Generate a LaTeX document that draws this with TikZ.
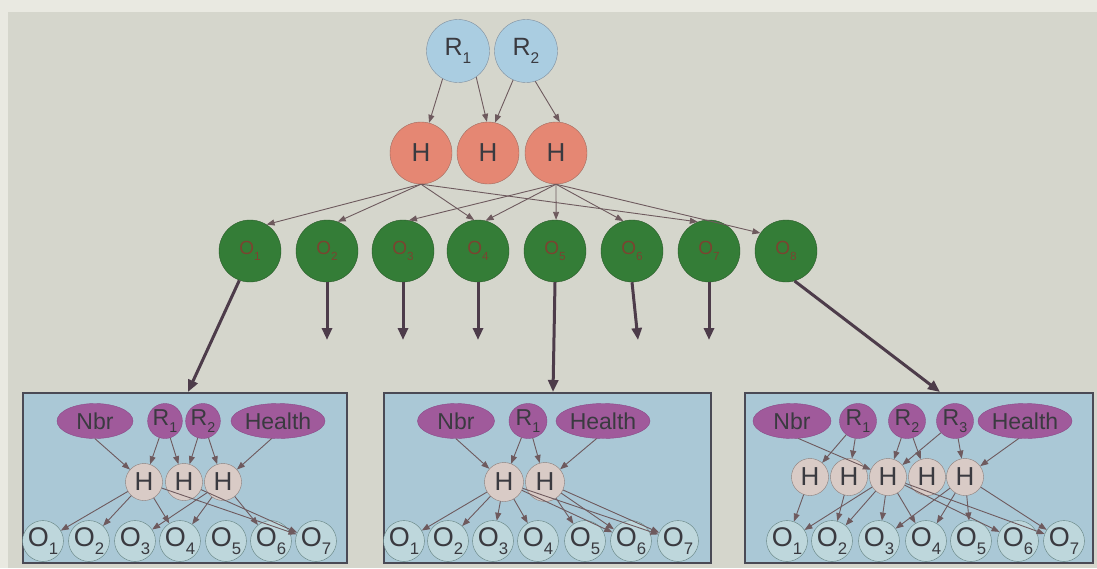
\documentclass[tikz,border=0pt]{standalone}
\usepackage{fontspec}
\setmainfont{Liberation Sans}
\usetikzlibrary{arrows.meta,shapes.geometric}
\definecolor{bgc}{HTML}{D5D6CC}
\definecolor{bgtop}{HTML}{E9E9E1}
\definecolor{rfill}{HTML}{AACDE1}
\definecolor{rbord}{HTML}{7F8F9F}
\definecolor{hfill}{HTML}{E58773}
\definecolor{hbord}{HTML}{A06A5E}
\definecolor{gfill}{HTML}{347D37}
\definecolor{gbord}{HTML}{2A5A2A}
\definecolor{glab}{HTML}{7A4430}
\definecolor{edgec}{HTML}{6E5A5E}
\definecolor{darkc}{HTML}{4D3C4A}
\definecolor{boxfill}{HTML}{AAC8D6}
\definecolor{boxbord}{HTML}{4A4A55}
\definecolor{pfill}{HTML}{A05A9B}
\definecolor{pbord}{HTML}{8A4A88}
\definecolor{sfill}{HTML}{D9CBC6}
\definecolor{sbord}{HTML}{8C7C78}
\definecolor{ofill}{HTML}{BED7DC}
\definecolor{obord}{HTML}{62807E}
\definecolor{txt}{HTML}{3A3A40}
\newcommand{\sbs}[1]{\raisebox{-0.6ex}{\scalebox{0.62}{#1}}}
\begin{document}
\begin{tikzpicture}[x=1pt,y=-1pt,
  rtop/.style={circle,draw=rbord,fill=rfill,minimum size=63pt,inner sep=0pt,text=txt,font=\fontsize{25}{25}\selectfont},
  htop/.style={circle,draw=hbord,fill=hfill,minimum size=62pt,inner sep=0pt,text=txt,font=\fontsize{26}{26}\selectfont},
  gtop/.style={circle,draw=gbord,fill=gfill,minimum size=62pt,inner sep=0pt,text=glab,font=\fontsize{19}{19}\selectfont},
  pell/.style={ellipse,draw=pbord,fill=pfill,minimum height=35pt,inner sep=0pt,text=txt,font=\fontsize{23}{23}\selectfont},
  hs/.style={circle,draw=sbord,fill=sfill,minimum size=37pt,inner sep=0pt,text=txt,font=\fontsize{26}{26}\selectfont},
  os/.style={circle,draw=obord,fill=ofill,minimum size=38pt,inner sep=0pt,text=txt,font=\fontsize{27}{27}\selectfont},
  boxst/.style={draw=boxbord,line width=1.6pt,fill=boxfill},
  ed/.style={draw=edgec,line width=0.9pt,-{Triangle[length=8pt,width=6pt]}},
  thickarr/.style={draw=darkc,line width=3pt,-{Triangle[length=12pt,width=10pt]}}
]
\useasboundingbox (0,0) rectangle (1097,568);
\fill[bgc] (0,0) rectangle (1097,568);
\fill[bgtop] (0,0) rectangle (1097,12);
\fill[bgtop] (0,0) rectangle (8,568);

% ---------- top network ----------
\node[rtop] (R1) at (458,51) {R\sbs{1}};
\node[rtop] (R2) at (526,51) {R\sbs{2}};
\node[htop] (H1) at (421,153) {H};
\node[htop] (H2) at (488,153) {H};
\node[htop] (H3) at (556,153) {H};
\foreach \i/\x in {1/250,2/327,3/403,4/478,5/555,6/632,7/709,8/786}
  \node[gtop] (G\i) at (\x,251) {O\sbs{\i}};

\draw[ed] (R1.241) -- (H1.75);
\draw[ed] (R1.305) -- (H2.92);
\draw[ed] (R2.246) -- (H2.77);
\draw[ed] (R2.287) -- (H3.83);

\draw[ed] (H1.south) -- (G1.58);
\draw[ed] (H1.south) -- (G2.70);
\draw[ed] (H1.south) -- (G4.97);
\draw[ed] (H1.south) -- (G7.111);
\draw[ed] (H3.south) -- (G3.79);
\draw[ed] (H3.south) -- (G4.76);
\draw[ed] (H3.south) -- (G5.88);
\draw[ed] (H3.south) -- (G6.106);
\draw[ed] (H3.south) -- (G8.145);

% ---------- boxes ----------
\draw[boxst] (23,393) rectangle (347,563);
\draw[boxst] (384,393) rectangle (711,563);
\draw[boxst] (745,393) rectangle (1093,563);

\coordinate (b1) at (188,392);
\coordinate (b2) at (553,392);
\coordinate (b3) at (940,392);
\coordinate (e2) at (327,340);
\coordinate (e3) at (403,340);
\coordinate (e4) at (478,340);
\coordinate (e6) at (638,340);
\coordinate (e7) at (709,340);
\draw[thickarr] (G1.250) -- (b1);
\draw[thickarr] (G2.south) -- (e2);
\draw[thickarr] (G3.south) -- (e3);
\draw[thickarr] (G4.south) -- (e4);
\draw[thickarr] (G5.south) -- (b2);
\draw[thickarr] (G6.south) -- (e6);
\draw[thickarr] (G7.south) -- (e7);
\draw[thickarr] (G8.-74) -- (b3);

% ---------- box 1 ----------
\node[pell,minimum width=76pt] (aN) at (95,421) {Nbr};
\node[pell,minimum width=34pt] (aR1) at (165,421) {R\sbs{1}};
\node[pell,minimum width=34pt] (aR2) at (203,421) {R\sbs{2}};
\node[pell,minimum width=80pt] (aHe) at (278,421) {Health};
\node[hs] (aH1) at (144,482) {H};
\node[hs] (aH2) at (184,482) {H};
\node[hs] (aH3) at (223,482) {H};
\foreach \i/\x in {1/43,2/89,3/135,4/180,5/226,6/271,7/316}
  \node[os] (aO\i) at (\x,541) {O\sbs{\i}};
\draw[ed] (aN.south) -- (aH1);
\draw[ed] (aR1) -- (aH1);
\draw[ed] (aR1) -- (aH2);
\draw[ed] (aR2) -- (aH2);
\draw[ed] (aR2) -- (aH3);
\draw[ed] (aHe.250) -- (aH3);
\foreach \a/\b in {1/1,1/2,1/4,1/7,2/7,3/3,3/4,3/6}
  \draw[ed] (aH\a) -- (aO\b);

% ---------- box 2 ----------
\node[pell,minimum width=77pt] (bN) at (456,421) {Nbr};
\node[pell,minimum width=38pt] (bR1) at (528,421) {R\sbs{1}};
\node[pell,minimum width=86pt] (bHe) at (603,421) {Health};
\node[hs,minimum size=39pt] (bH1) at (504,482) {H};
\node[hs,minimum size=39pt] (bH2) at (545,482) {H};
\foreach \i/\x in {1/404,2/448,3/493,4/538,5/585,6/631,7/678}
  \node[os] (bO\i) at (\x,541) {O\sbs{\i}};
\draw[ed] (bN.south) -- (bH1);
\draw[ed] (bR1) -- (bH1);
\draw[ed] (bR1) -- (bH2);
\draw[ed] (bHe.250) -- (bH2);
\foreach \a/\b in {1/1,1/2,1/3,1/4,1/6,1/7,2/5,2/6,2/7}
  \draw[ed] (bH\a) -- (bO\b);

% ---------- box 3 ----------
\node[pell,minimum width=78pt] (cN) at (792,421) {Nbr};
\node[pell,minimum width=37pt] (cR1) at (858,421) {R\sbs{1}};
\node[pell,minimum width=37pt] (cR2) at (907,421) {R\sbs{2}};
\node[pell,minimum width=37pt] (cR3) at (955,421) {R\sbs{3}};
\node[pell,minimum width=84pt] (cHe) at (1025,421) {Health};
\foreach \i/\x in {1/810,2/849,3/888,4/927,5/965}
  \node[hs] (cH\i) at (\x,477) {H};
\foreach \i/\x in {1/787,2/832,3/879,4/926,5/971,6/1018,7/1064}
  \node[os] (cO\i) at (\x,541) {O\sbs{\i}};
\draw[ed] (cN.-70) -- (cH3);
\draw[ed] (cR1) -- (cH1);
\draw[ed] (cR1) -- (cH2);
\draw[ed] (cR2) -- (cH3);
\draw[ed] (cR2) -- (cH4);
\draw[ed] (cR3) -- (cH3);
\draw[ed] (cR3) -- (cH5);
\draw[ed] (cHe.250) -- (cH5);
\foreach \a/\b in {1/1,2/2,3/1,3/2,3/3,3/4,3/6,3/7,5/3,5/4,5/5,5/7}
  \draw[ed] (cH\a) -- (cO\b);
\end{tikzpicture}
\end{document}
